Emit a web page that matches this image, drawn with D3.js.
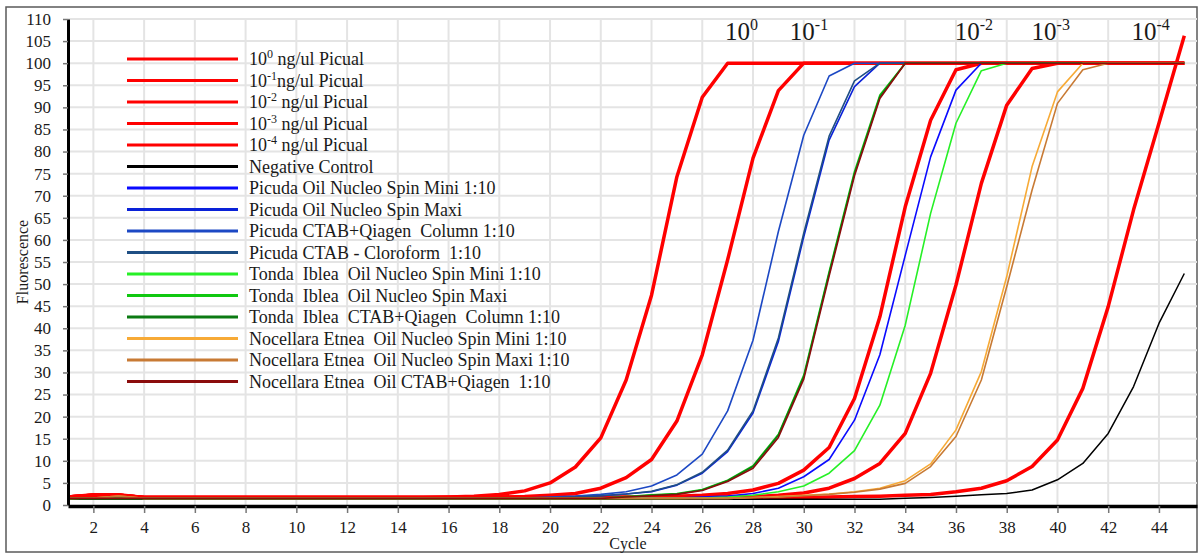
<!DOCTYPE html>
<html>
<head>
<meta charset="utf-8">
<script src="https://cdn.jsdelivr.net/npm/d3@7"></script>
<style>
  body { margin: 0; background: #fff; }
  svg text { font-family: "Liberation Serif", "Times New Roman", serif; fill: #1a1a1a; }
  .legend text { white-space: pre; }
</style>
</head>
<body>
<svg id="chart" width="1204" height="553"></svg>
<script>
// qPCR amplification curves: fluorescence per cycle
const cycles = [1,2,3,4,5,6,7,8,9,10,11,12,13,14,15,16,17,18,19,20,21,22,23,24,25,26,27,28,29,30,31,32,33,34,35,36,37,38,39,40,41,42,43,44,45];

const picual_1e0 = [1.8,2.3,2.3,1.7,1.7,1.7,1.7,1.7,1.7,1.7, 1.7,1.7,1.7,1.7,1.7,1.8,2.0,2.4,3.2,5.0, 8.6,15.2,28.3,47.5,74.3,92.3,100,100,100,100, 100,100,100,100,100,100,100,100,100,100, 100,100,100,100,100];
const picual_1e1 = [1.8,2.2,2.2,1.7,1.7,1.7,1.7,1.7,1.7,1.7, 1.7,1.7,1.7,1.7,1.7,1.7,1.7,1.8,1.9,2.2, 2.6,3.8,6.2,10.3,19.0,34.0,55.5,78.5,93.8,100, 100,100,100,100,100,100,100,100,100,100, 100,100,100,100,100];
const picual_1e2 = [1.8,2.2,2.2,1.7,1.7,1.7,1.7,1.7,1.7,1.7, 1.7,1.7,1.7,1.7,1.7,1.7,1.7,1.7,1.7,1.7, 1.7,1.7,1.8,1.9,2.0,2.2,2.6,3.4,4.9,7.9, 13.0,24.1,42.6,67.5,87.1,98.5,100,100,100,100, 100,100,100,100,100];
const picual_1e3 = [1.8,2.2,2.2,1.7,1.7,1.7,1.7,1.7,1.7,1.7, 1.7,1.7,1.7,1.7,1.7,1.7,1.7,1.7,1.7,1.7, 1.7,1.7,1.7,1.7,1.7,1.7,1.8,1.9,2.2,2.7, 3.8,6.0,9.4,16.2,29.8,49.8,72.8,90.5,98.8,100, 100,100,100,100,100];
const picual_1e4 = [1.8,2.2,2.2,1.7,1.7,1.7,1.7,1.7,1.7,1.7, 1.7,1.7,1.7,1.7,1.7,1.7,1.7,1.7,1.7,1.7, 1.7,1.7,1.7,1.7,1.7,1.7,1.7,1.7,1.7,1.7, 1.8,1.9,2.0,2.2,2.4,3.0,3.8,5.5,8.7,14.7, 26.4,44.9,66.8,86.4,106.2];
const negControl = [1.3,1.3,1.3,1.3,1.3,1.3,1.3,1.3,1.3,1.3, 1.3,1.3,1.3,1.3,1.3,1.3,1.3,1.3,1.3,1.3, 1.3,1.3,1.3,1.3,1.3,1.3,1.3,1.3,1.3,1.3, 1.3,1.3,1.3,1.5,1.7,2.0,2.3,2.6,3.4,5.7, 9.4,16.2,26.8,41.1,52.4];
const picudaMini = [1.6,1.6,1.6,1.6,1.6,1.6,1.6,1.6,1.6,1.6, 1.6,1.6,1.6,1.6,1.6,1.6,1.6,1.6,1.6,1.6, 1.6,1.6,1.6,1.6,1.6,1.8,2.0,2.6,3.8,6.4, 10.3,19.2,34.0,56.5,78.8,93.9,100,100,100,100, 100,100,100,100,100];
const picudaMaxi = [1.6,1.6,1.6,1.6,1.6,1.6,1.6,1.6,1.6,1.6, 1.6,1.6,1.6,1.6,1.6,1.6,1.6,1.6,1.6,1.6, 1.8,2.1,2.5,3.0,4.5,7.2,12.1,20.8,37.0,60.7, 82.6,94.7,100,100,100,100,100,100,100,100, 100,100,100,100,100];
const picudaQiagen = [1.6,1.6,1.6,1.6,1.6,1.6,1.6,1.6,1.6,1.6, 1.6,1.6,1.6,1.6,1.6,1.6,1.6,1.6,1.6,1.8, 2.0,2.4,3.0,4.3,6.8,11.5,21.3,37.3,61.9,83.7, 97.1,100,100,100,100,100,100,100,100,100, 100,100,100,100,100];
const picudaCloroform = [1.6,1.6,1.6,1.6,1.6,1.6,1.6,1.6,1.6,1.6, 1.6,1.6,1.6,1.6,1.6,1.6,1.6,1.6,1.6,1.6, 1.8,2.1,2.5,3.1,4.6,7.4,12.4,21.3,37.8,61.5, 83.5,96.0,100,100,100,100,100,100,100,100, 100,100,100,100,100];
const tondaMini = [1.5,1.5,1.5,1.5,1.5,1.5,1.5,1.5,1.5,1.5, 1.5,1.5,1.5,1.5,1.5,1.5,1.5,1.5,1.5,1.5, 1.5,1.5,1.5,1.5,1.5,1.6,1.8,2.2,3.0,4.3, 7.2,12.3,22.6,40.7,66.0,86.4,98.3,100,100,100, 100,100,100,100,100];
const tondaMaxi = [1.5,1.5,1.5,1.5,1.5,1.5,1.5,1.5,1.5,1.5, 1.5,1.5,1.5,1.5,1.5,1.5,1.5,1.5,1.5,1.5, 1.5,1.5,1.9,2.3,2.6,3.5,5.6,8.9,16.0,29.4, 52.8,75.5,92.8,100,100,100,100,100,100,100, 100,100,100,100,100];
const tondaQiagen = [1.5,1.5,1.5,1.5,1.5,1.5,1.5,1.5,1.5,1.5, 1.5,1.5,1.5,1.5,1.5,1.5,1.5,1.5,1.5,1.5, 1.5,1.5,1.8,2.2,2.5,3.4,5.5,8.7,15.8,29.0, 52.4,75.0,92.4,100,100,100,100,100,100,100, 100,100,100,100,100];
const nocellaraMini = [1.5,1.6,2.0,1.5,1.5,1.5,1.5,1.5,1.5,1.5, 1.5,1.5,1.5,1.5,1.5,1.5,1.5,1.5,1.5,1.5, 1.5,1.5,1.5,1.5,1.5,1.5,1.5,1.7,1.9,2.2, 2.5,3.0,3.8,5.5,9.3,17.0,30.2,51.7,76.6,93.5, 100,100,100,100,100];
const nocellaraMaxi = [1.5,1.6,2.0,1.5,1.5,1.5,1.5,1.5,1.5,1.5, 1.5,1.5,1.5,1.5,1.5,1.5,1.5,1.5,1.5,1.5, 1.5,1.5,1.5,1.5,1.5,1.5,1.5,1.7,1.8,2.1, 2.4,2.9,3.6,4.9,8.7,15.5,28.3,49.4,71.3,90.9, 98.5,100,100,100,100];
const nocellaraQiagen = [1.5,1.5,1.5,1.5,1.5,1.5,1.5,1.5,1.5,1.5, 1.5,1.5,1.5,1.5,1.5,1.5,1.5,1.5,1.5,1.5, 1.5,1.5,1.8,2.1,2.4,3.3,5.3,8.3,15.3,28.5, 51.8,74.5,92.0,100,100,100,100,100,100,100, 100,100,100,100,100];

// legend labels; {..} marks a superscript
const seriesNames = [
  "10{0} ng/ul Picual",
  "10{-1}ng/ul Picual",
  "10{-2} ng/ul Picual",
  "10{-3} ng/ul Picual",
  "10{-4} ng/ul Picual",
  "Negative Control",
  "Picuda Oil Nucleo Spin Mini 1:10",
  "Picuda Oil Nucleo Spin Maxi",
  "Picuda CTAB+Qiagen  Column 1:10",
  "Picuda CTAB - Cloroform  1:10",
  "Tonda  Iblea  Oil Nucleo Spin Mini 1:10",
  "Tonda  Iblea  Oil Nucleo Spin Maxi",
  "Tonda  Iblea  CTAB+Qiagen  Column 1:10",
  "Nocellara Etnea  Oil Nucleo Spin Mini 1:10",
  "Nocellara Etnea  Oil Nucleo Spin Maxi 1:10",
  "Nocellara Etnea  Oil CTAB+Qiagen  1:10"
];
const seriesValues = [picual_1e0, picual_1e1, picual_1e2, picual_1e3, picual_1e4, negControl,
  picudaMini, picudaMaxi, picudaQiagen, picudaCloroform,
  tondaMini, tondaMaxi, tondaQiagen,
  nocellaraMini, nocellaraMaxi, nocellaraQiagen];
const seriesColors = ["#ff0000","#ff0000","#ff0000","#ff0000","#ff0000","#000000",
  "#0a0aff","#0a22d8","#1c48c4","#1f4f84",
  "#26f026","#10c810","#0b7a12",
  "#f7aa36","#c87a34","#8b0c0c"];
const seriesWidths = [3.5,3.5,3.5,3.5,3.5,1.5, 1.6,1.6,1.6,1.6, 1.6,1.6,1.6, 1.6,1.6,1.6];

// dilution annotations along the top
const dilutionLabels = ["10{0}", "10{-1}", "10{-2}", "10{-3}", "10{-4}"];
const dilutionCycles = [26.9, 29.45, 35.95, 38.98, 42.92];

const yTicks = [0,5,10,15,20,25,30,35,40,45,50,55,60,65,70,75,80,85,90,95,100,105,110];
const xTicks = [2,4,6,8,10,12,14,16,18,20,22,24,26,28,30,32,34,36,38,40,42,44];

const svg = d3.select("#chart");
const x = d3.scaleLinear().domain([1, 45.5]).range([68, 1197]);
const y = d3.scaleLinear().domain([0, 110]).range([505, 19]);

// outer frame
svg.append("rect").attr("x", 6).attr("y", 7).attr("width", 1191).attr("height", 545)
  .attr("fill", "none").attr("stroke", "#5a5a5a").attr("stroke-width", 1.5);

// grid
const grid = svg.append("g").attr("stroke", "#e4e4e4").attr("stroke-width", 2);
grid.selectAll("line.h").data(yTicks.filter(d => d > 0)).join("line")
  .attr("x1", x(1)).attr("x2", x(45.5)).attr("y1", d => y(d)).attr("y2", d => y(d));
grid.selectAll("line.v").data(xTicks).join("line")
  .attr("x1", d => x(d)).attr("x2", d => x(d)).attr("y1", y(0)).attr("y2", y(110));

// write text with {sup} parts as raised tspans; the following part drops back down
function richText(sel, str, supSize, supShift) {
  const parts = str.split(/(\{[^}]*\})/).filter(p => p.length);
  let pending = 0;
  parts.forEach(p => {
    if (p.startsWith("{")) {
      sel.append("tspan").attr("font-size", supSize).attr("dy", -supShift + pending).text(p.slice(1, -1));
      pending = supShift;
    } else {
      sel.append("tspan").attr("dy", pending).text(p);
      pending = 0;
    }
  });
}

// curves
const line = d3.line().x((d, i) => x(cycles[i])).y(d => y(d));
svg.append("g").selectAll("path").data(seriesValues).join("path")
  .attr("d", d => line(d))
  .attr("fill", "none")
  .attr("stroke", (d, i) => seriesColors[i])
  .attr("stroke-width", (d, i) => seriesWidths[i])
  .attr("stroke-linejoin", "round");

// axes
const yAxis = svg.append("g").attr("transform", `translate(${x(1)},0)`)
  .call(d3.axisLeft(y).tickValues(yTicks).tickSize(5).tickSizeOuter(0).tickPadding(12));
yAxis.select(".domain").attr("stroke", "#000").attr("stroke-width", 3);
yAxis.selectAll(".tick line").attr("stroke", "#777").attr("stroke-width", 1.5);
yAxis.selectAll(".tick text").attr("font-size", 17).attr("font-family", "Liberation Serif").attr("fill", "#222");

const xAxis = svg.append("g").attr("transform", `translate(0,${y(0) + 1})`)
  .call(d3.axisBottom(x).tickValues(xTicks).tickSize(7).tickSizeOuter(0).tickPadding(8));
xAxis.select(".domain").attr("stroke", "#000").attr("stroke-width", 3.5);
xAxis.selectAll(".tick line").attr("stroke", "#777").attr("stroke-width", 1.5);
xAxis.selectAll(".tick text").attr("font-size", 17).attr("font-family", "Liberation Serif").attr("fill", "#222");

// axis titles
svg.append("text").attr("x", 628).attr("y", 549).attr("text-anchor", "middle")
  .attr("font-size", 16).text("Cycle");
svg.append("text").attr("transform", "translate(28,262) rotate(-90)").attr("text-anchor", "middle")
  .attr("font-size", 16).text("Fluorescence");

// dilution annotations
svg.append("g").selectAll("text").data(dilutionLabels).join("text")
  .attr("x", (d, i) => x(dilutionCycles[i])).attr("y", 40)
  .attr("font-size", 25)
  .each(function (d) { richText(d3.select(this), d, 16, 10); });

// legend
const legend = svg.append("g").attr("class", "legend");
const rows = legend.selectAll("g").data(seriesNames).join("g")
  .attr("transform", (d, i) => `translate(0,${59 + i * 21.5})`);
rows.append("line").attr("x1", 127).attr("x2", 238).attr("y1", 0).attr("y2", 0)
  .attr("stroke", (d, i) => seriesColors[i]).attr("stroke-width", 3);
rows.append("text").attr("x", 249).attr("y", 6).attr("font-size", 18)
  .each(function (d) { richText(d3.select(this), d, 12, 7); });
</script>
</body>
</html>
